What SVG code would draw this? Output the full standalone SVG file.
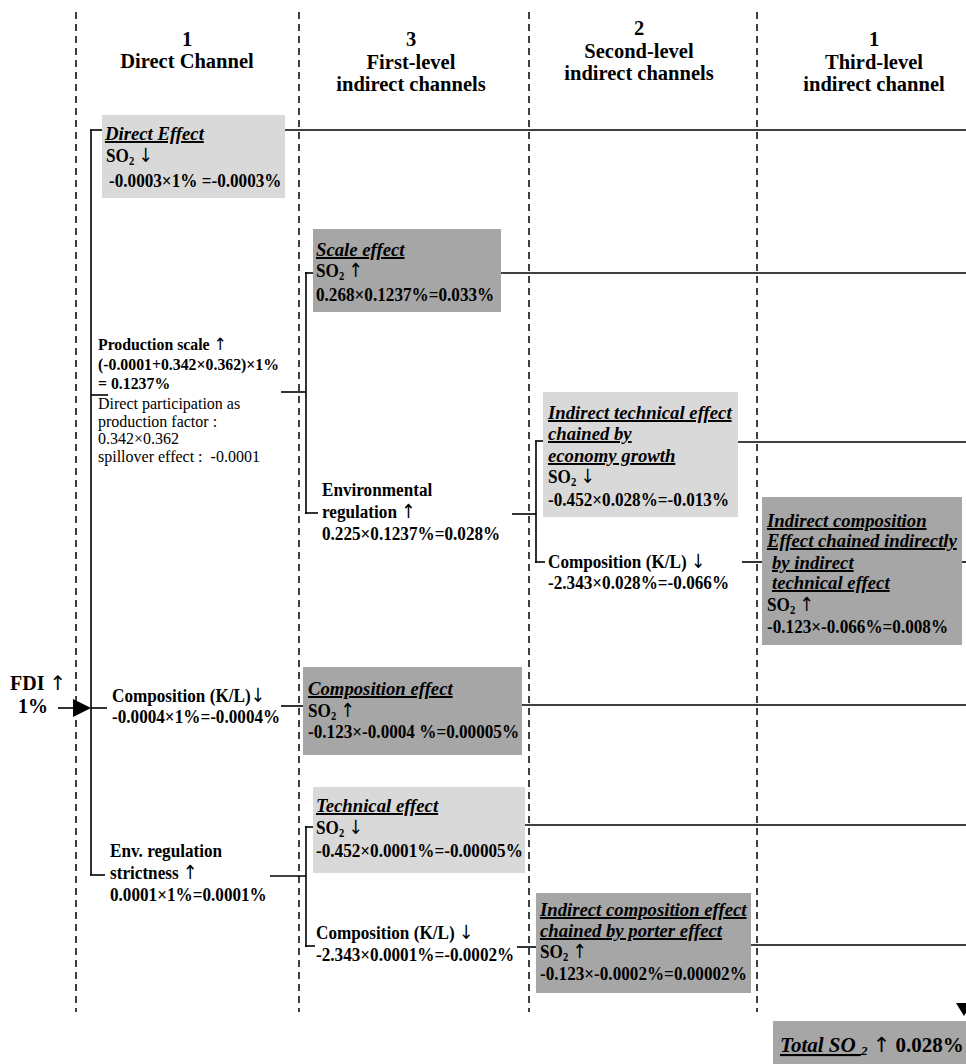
<svg xmlns="http://www.w3.org/2000/svg" width="966" height="1064" viewBox="0 0 966 1064">
<style>
text{font-family:"Liberation Serif","Times New Roman",serif;fill:#000}
.h{font-size:20.5px;font-weight:bold;text-anchor:middle}
.b,.u,.s{transform-box:fill-box;transform-origin:0 50%}
.b{font-size:19.5px;font-weight:bold;transform:scaleX(0.88)}
.u{font-size:19.5px;font-weight:bold;font-style:italic;text-decoration:underline;transform:scaleX(0.96)}
.s{font-size:17px;font-weight:bold;transform:scaleX(0.93)}
.r{font-size:16px}
.sub{font-size:12px}
.ar{font-family:"DejaVu Sans",sans-serif;font-weight:normal;fill:#000}
.lt{fill:#d9d9d9}
.dk{fill:#a6a6a6}
.dash{stroke:#000;stroke-width:1.5;stroke-dasharray:7,5;fill:none}
.ln{stroke:#000;stroke-width:1.6;fill:none}
</style>
<rect width="966" height="1064" fill="#fff"/>
<g id="columns">
<line class="dash" x1="76" y1="12" x2="76" y2="1012"/>
<line class="dash" x1="299" y1="12" x2="299" y2="1012"/>
<line class="dash" x1="529" y1="12" x2="529" y2="1012"/>
<line class="dash" x1="757" y1="12" x2="757" y2="1012"/>
</g>
<g id="headers">
<text class="h" x="187" y="46">1</text>
<text class="h" x="187" y="68">Direct Channel</text>
<text class="h" x="411" y="46">3</text>
<text class="h" x="411" y="69">First-level</text>
<text class="h" x="411" y="91">indirect channels</text>
<text class="h" x="639" y="35">2</text>
<text class="h" x="639" y="58">Second-level</text>
<text class="h" x="639" y="80">indirect channels</text>
<text class="h" x="874" y="46">1</text>
<text class="h" x="874" y="69">Third-level</text>
<text class="h" x="874" y="91">indirect channel</text>
</g>
<g id="connectors">
<line class="ln" x1="91" y1="130" x2="91" y2="875"/>
<line class="ln" x1="90" y1="130" x2="102" y2="130"/>
<line class="ln" x1="285" y1="130" x2="966" y2="130"/>
<line class="ln" x1="91" y1="395" x2="108" y2="395"/>
<line class="ln" x1="281" y1="392" x2="306" y2="392"/>
<line class="ln" x1="306" y1="272" x2="306" y2="514"/>
<line class="ln" x1="305" y1="273" x2="313" y2="273"/>
<line class="ln" x1="305" y1="513" x2="318" y2="513"/>
<line class="ln" x1="501" y1="273" x2="966" y2="273"/>
<line class="ln" x1="512" y1="514" x2="536" y2="514"/>
<line class="ln" x1="536" y1="441" x2="536" y2="563"/>
<line class="ln" x1="535" y1="441" x2="543" y2="441"/>
<line class="ln" x1="535" y1="562" x2="545" y2="562"/>
<line class="ln" x1="738" y1="442" x2="966" y2="442"/>
<line class="ln" x1="742" y1="562" x2="762" y2="562"/>
<line class="ln" x1="962" y1="562" x2="966" y2="562"/>
<line class="ln" x1="58" y1="708" x2="76" y2="708"/>
<polygon points="73,699 91,708 73,717" fill="#000"/>
<line class="ln" x1="91" y1="708" x2="107" y2="708"/>
<line class="ln" x1="281" y1="706" x2="303" y2="706"/>
<line class="ln" x1="522" y1="705" x2="966" y2="705"/>
<line class="ln" x1="90" y1="875" x2="105" y2="875"/>
<line class="ln" x1="270" y1="876" x2="306" y2="876"/>
<line class="ln" x1="306" y1="826" x2="306" y2="947"/>
<line class="ln" x1="305" y1="827" x2="313" y2="827"/>
<line class="ln" x1="305" y1="946" x2="315" y2="946"/>
<line class="ln" x1="525" y1="825" x2="966" y2="825"/>
<line class="ln" x1="517" y1="947" x2="536" y2="947"/>
<line class="ln" x1="751" y1="945" x2="966" y2="945"/>
<polygon points="956,1003 972,1003 964,1016" fill="#000"/>
</g>
<g id="fdi">
<text x="10" y="690" font-size="20" font-weight="bold">FDI <tspan class="ar">↑</tspan></text>
<text x="18" y="713" font-size="20" font-weight="bold">1%</text>
</g>
<g id="direct-effect">
<rect class="lt" x="102" y="115" width="183" height="83"/>
<text class="u" x="105" y="140">Direct Effect</text>
<text class="b" x="106" y="162">SO<tspan class="sub" dy="3">2</tspan><tspan dy="-3"> </tspan><tspan class="ar">↓</tspan></text>
<text class="b" x="109" y="187">-0.0003×1% =-0.0003%</text>
</g>
<g id="production-scale">
<text class="s" x="98" y="350">Production scale <tspan class="ar">↑</tspan></text>
<text class="s" x="98" y="370">(-0.0001+0.342×0.362)×1%</text>
<text class="s" x="98" y="389">= 0.1237%</text>
<text class="r" x="98" y="409">Direct participation as</text>
<text class="r" x="98" y="427">production factor :</text>
<text class="r" x="98" y="444">0.342×0.362</text>
<text class="r" x="98" y="462">spillover effect : &#160;-0.0001</text>
</g>
<g id="scale-effect">
<rect class="dk" x="313" y="229" width="188" height="83"/>
<text class="u" x="316" y="256">Scale effect</text>
<text class="b" x="316" y="277">SO<tspan class="sub" dy="3">2</tspan><tspan dy="-3"> </tspan><tspan class="ar">↑</tspan></text>
<text class="b" x="316" y="301">0.268×0.1237%=0.033%</text>
</g>
<g id="environmental-regulation">
<text class="b" x="322" y="496">Environmental</text>
<text class="b" x="322" y="518">regulation <tspan class="ar">↑</tspan></text>
<text class="b" x="322" y="540">0.225×0.1237%=0.028%</text>
</g>
<g id="indirect-technical">
<rect class="lt" x="543" y="392" width="195" height="125"/>
<text class="u" x="548" y="419">Indirect technical effect</text>
<text class="u" x="548" y="440">chained by</text>
<text class="u" x="548" y="462">economy growth</text>
<text class="b" x="548" y="483">SO<tspan class="sub" dy="3">2</tspan><tspan dy="-3"> </tspan><tspan class="ar">↓</tspan></text>
<text class="b" x="548" y="506">-0.452×0.028%=-0.013%</text>
</g>
<g id="composition-2">
<text class="b" x="548" y="568">Composition (K/L) <tspan class="ar">↓</tspan></text>
<text class="b" x="548" y="589">-2.343×0.028%=-0.066%</text>
</g>
<g id="indirect-composition">
<rect class="dk" x="762" y="497" width="200" height="148"/>
<text class="u" x="767" y="527">Indirect composition</text>
<text class="u" x="767" y="547">Effect chained indirectly</text>
<text class="u" x="772" y="569">by indirect</text>
<text class="u" x="772" y="589">technical effect</text>
<text class="b" x="767" y="611">SO<tspan class="sub" dy="3">2</tspan><tspan dy="-3"> </tspan><tspan class="ar">↑</tspan></text>
<text class="b" x="767" y="633">-0.123×-0.066%=0.008%</text>
</g>
<g id="composition-1">
<text class="b" x="112" y="702">Composition (K/L)<tspan class="ar">↓</tspan></text>
<text class="b" x="112" y="723">-0.0004×1%=-0.0004%</text>
</g>
<g id="composition-effect">
<rect class="dk" x="303" y="667" width="219" height="88"/>
<text class="u" x="308" y="695">Composition effect</text>
<text class="b" x="308" y="717">SO<tspan class="sub" dy="3">2</tspan><tspan dy="-3"> </tspan><tspan class="ar">↑</tspan></text>
<text class="b" x="308" y="738">-0.123×-0.0004 %=0.00005%</text>
</g>
<g id="technical-effect">
<rect class="lt" x="313" y="787" width="212" height="86"/>
<text class="u" x="316" y="812">Technical effect</text>
<text class="b" x="316" y="834">SO<tspan class="sub" dy="3">2</tspan><tspan dy="-3"> </tspan><tspan class="ar">↓</tspan></text>
<text class="b" x="316" y="857">-0.452×0.0001%=-0.00005%</text>
</g>
<g id="env-regulation-strictness">
<text class="b" x="110" y="857">Env. regulation</text>
<text class="b" x="110" y="879">strictness <tspan class="ar">↑</tspan></text>
<text class="b" x="110" y="901">0.0001×1%=0.0001%</text>
</g>
<g id="composition-3">
<text class="b" x="316" y="939">Composition (K/L) <tspan class="ar">↓</tspan></text>
<text class="b" x="316" y="961">-2.343×0.0001%=-0.0002%</text>
</g>
<g id="porter-effect">
<rect class="dk" x="536" y="893" width="215" height="100"/>
<text class="u" x="540" y="916">Indirect composition effect</text>
<text class="u" x="540" y="937">chained by porter effect</text>
<text class="b" x="540" y="958">SO<tspan class="sub" dy="3">2</tspan><tspan dy="-3"> </tspan><tspan class="ar">↑</tspan></text>
<text class="b" x="540" y="980">-0.123×-0.0002%=0.00002%</text>
</g>
<g id="total">
<rect class="dk" x="773" y="1021" width="193" height="43"/>
<text x="780" y="1052" font-size="21" font-weight="bold"><tspan font-style="italic" text-decoration="underline">Total SO </tspan><tspan font-style="italic" font-size="13" dy="3">2</tspan><tspan dy="-3"> </tspan><tspan class="ar">↑</tspan><tspan> 0.028%</tspan></text>
</g>
</svg>
